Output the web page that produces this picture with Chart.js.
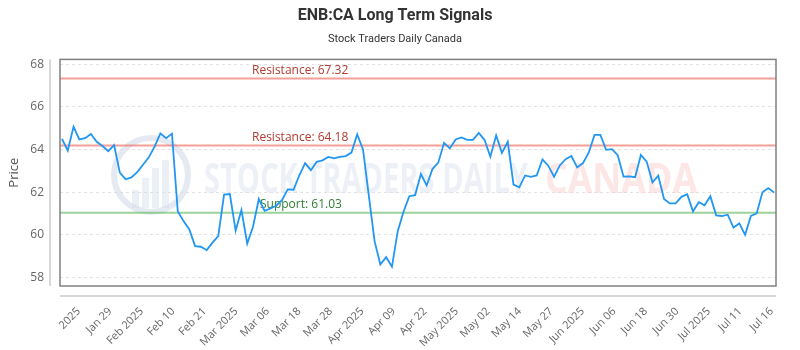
<!DOCTYPE html>
<html>
<head>
<meta charset="utf-8">
<title>ENB:CA Long Term Signals</title>
<script src="https://cdn.jsdelivr.net/npm/chart.js@4/dist/chart.umd.min.js"></script>
<style>
    body { margin: 0; background: #fff; }
    #contenedor { width: 800px; height: 350px; }
</style>
</head>
<body>
<div id="contenedor"><canvas id="grafica"></canvas></div>
<script>
// --- DATOS ---

const precios = [
    64.50, 63.95, 65.06, 64.47, 64.53, 64.72, 64.36, 64.16, 63.92, 64.20,
    62.91, 62.60, 62.69, 62.94, 63.28, 63.63, 64.13, 64.75, 64.53, 64.74,
    61.11, 60.64, 60.25, 59.47, 59.44, 59.28, 59.63, 59.94, 61.88, 61.91,
    60.20, 61.16, 59.59, 60.38, 61.68, 61.12, 61.23, 61.36, 61.62, 62.13,
    62.11, 62.79, 63.36, 63.03, 63.42, 63.49, 63.65, 63.58, 63.65, 63.69,
    63.85, 64.70, 64.00, 61.85, 59.70, 58.61, 58.95, 58.50, 60.17, 61.08,
    61.81, 61.86, 62.85, 62.31, 63.08, 63.38, 64.31, 64.05, 64.47, 64.56,
    64.45, 64.45, 64.77, 64.44, 63.66, 64.66, 63.84, 64.36, 62.35, 62.22,
    62.78, 62.72, 62.78, 63.53, 63.24, 62.72, 63.25, 63.54, 63.69, 63.16,
    63.36, 63.86, 64.68, 64.68, 63.98, 64.01, 63.73, 62.73, 62.74, 62.70,
    63.74, 63.43, 62.46, 62.77, 61.68, 61.47, 61.47, 61.78, 61.90, 61.10,
    61.53, 61.38, 61.81, 60.91, 60.88, 60.94, 60.34, 60.54, 60.00, 60.88,
    61.00, 61.99, 62.19, 61.98
];

const etiquetasX = [
    '2025', 'Jan 29', 'Feb 2025', 'Feb 10', 'Feb 21', 'Mar 2025', 'Mar 06', 'Mar 18',
    'Mar 28', 'Apr 2025', 'Apr 09', 'Apr 22', 'May 2025', 'May 02', 'May 14', 'May 27',
    'Jun 2025', 'Jun 06', 'Jun 18', 'Jun 30', 'Jul 2025', 'Jul 11', 'Jul 16'
];
const primerTick = 2.9;   // indice del primer rotulo
const pasoTick = 5.44;    // separacion entre rotulos (en puntos)

const ticksY = [58, 60, 62, 64, 66, 68];
const minY = 57.6;
const maxY = 68.22;

const nivelesNombre = ['Resistance', 'Resistance', 'Support'];
const nivelesValor = [67.32, 64.18, 61.03];

// --- PLUGIN: marca de agua, niveles y marco ---

const FUENTE = '"Open Sans", "DejaVu Sans", sans-serif';

const marcoPlugin = {
    id: 'marco',
    beforeDatasetsDraw(chart) {
        const { ctx, chartArea: a, scales: { y } } = chart;
        ctx.save();

        // logo de fondo
        ctx.strokeStyle = 'rgba(205,215,232,0.55)';
        ctx.lineWidth = 6;
        ctx.beginPath();
        ctx.arc(151, 175, 37, 0, Math.PI * 2);
        ctx.stroke();
        ctx.fillStyle = 'rgba(210,220,236,0.45)';
        [[132, 190, 7, 18], [142, 178, 7, 30], [152, 168, 7, 40], [162, 160, 7, 48]].forEach(b => {
            ctx.fillRect(b[0], b[1], b[2], b[3]);
        });

        // texto de fondo
        ctx.font = 'bold 42px ' + FUENTE;
        ctx.textBaseline = 'alphabetic';
        ctx.textAlign = 'left';
        ctx.fillStyle = 'rgba(214,222,236,0.45)';
        ctx.fillText('STOCK TRADERS DAILY', 204, 193, 324);
        ctx.fillStyle = 'rgba(250,200,200,0.45)';
        ctx.fillText('CANADA', 545, 193, 152);

        // lineas de soporte / resistencia
        nivelesValor.forEach((v, i) => {
            const py = y.getPixelForValue(v);
            const esSoporte = nivelesNombre[i] === 'Support';
            ctx.strokeStyle = esSoporte ? 'rgba(90,180,90,0.6)' : 'rgba(238,95,85,0.6)';
            ctx.lineWidth = 2;
            ctx.beginPath();
            ctx.moveTo(a.left, py);
            ctx.lineTo(a.right, py);
            ctx.stroke();

            ctx.font = '12px ' + FUENTE;
            ctx.textBaseline = 'bottom';
            ctx.fillStyle = esSoporte ? '#2e7d32' : '#b23a30';
            ctx.fillText(nivelesNombre[i] + ': ' + v.toFixed(2), a.left + (esSoporte ? 200 : 192), py - 2);
        });
        ctx.restore();
    },
    afterDraw(chart) {
        const { ctx, chartArea: a } = chart;
        ctx.save();
        ctx.strokeStyle = '#808080';
        ctx.lineWidth = 1.5;
        ctx.strokeRect(a.left, a.top, a.right - a.left, a.bottom - a.top);

        // ejes separados del area
        ctx.strokeStyle = '#cccccc';
        ctx.lineWidth = 1.5;
        ctx.beginPath();
        ctx.moveTo(a.left - 10, a.top);
        ctx.lineTo(a.left - 10, a.bottom);
        ctx.moveTo(a.left, a.bottom + 10);
        ctx.lineTo(a.right, a.bottom + 10);
        ctx.stroke();
        ctx.restore();
    }
};

// --- GRAFICA ---

function inicializarGrafica() {
    const ctx = document.getElementById('grafica').getContext('2d');
    new Chart(ctx, {
        type: 'line',
        data: {
            datasets: [{
                label: 'Price',
                data: precios.map((p, i) => ({ x: i, y: p })),
                borderColor: '#2196f3',
                borderWidth: 1.8,
                tension: 0,
                pointRadius: 0,
                fill: false
            }]
        },
        options: {
            responsive: true,
            maintainAspectRatio: false,
            animation: false,
            layout: { padding: { left: 0, right: 10, top: 0, bottom: 0 } },
            scales: {
                x: {
                    type: 'linear',
                    min: -0.34,
                    max: 123.34,
                    afterBuildTicks: s => {
                        s.ticks = etiquetasX.map((_, k) => ({ value: primerTick + k * pasoTick }));
                    },
                    afterFit: s => { s.height = 64; },
                    grid: { display: false, drawTicks: false },
                    border: { display: false },
                    ticks: {
                        autoSkip: false,
                        minRotation: 45,
                        maxRotation: 45,
                        padding: 19,
                        color: '#666',
                        font: { family: FUENTE, size: 11 },
                        callback: (v, i) => etiquetasX[i]
                    }
                },
                y: {
                    min: minY,
                    max: maxY,
                    afterBuildTicks: s => {
                        s.ticks = ticksY.map(v => ({ value: v }));
                    },
                    afterFit: s => { s.width = 60; },
                    grid: { color: '#e2e2e2', tickColor: 'transparent', tickLength: 10 },
                    border: { display: false, dash: [3, 3] },
                    ticks: {
                        padding: 6,
                        color: '#666',
                        font: { family: FUENTE, size: 12 },
                        callback: v => v
                    },
                    title: {
                        display: true,
                        text: 'Price',
                        color: '#555',
                        font: { family: FUENTE, size: 13 },
                        padding: { top: 6, bottom: 0 }
                    }
                }
            },
            plugins: {
                legend: { display: false },
                tooltip: { enabled: false },
                title: {
                    display: true,
                    text: 'ENB:CA Long Term Signals',
                    color: '#333',
                    font: { family: 'Roboto, sans-serif', size: 16, weight: 'bold' },
                    padding: { top: 6, bottom: 4 }
                },
                subtitle: {
                    display: true,
                    text: 'Stock Traders Daily Canada',
                    color: '#333',
                    font: { family: 'Roboto, sans-serif', size: 11 },
                    padding: { top: 3, bottom: 14 }
                }
            }
        },
        plugins: [marcoPlugin]
    });
}

window.onload = inicializarGrafica;
</script>
</body>
</html>
